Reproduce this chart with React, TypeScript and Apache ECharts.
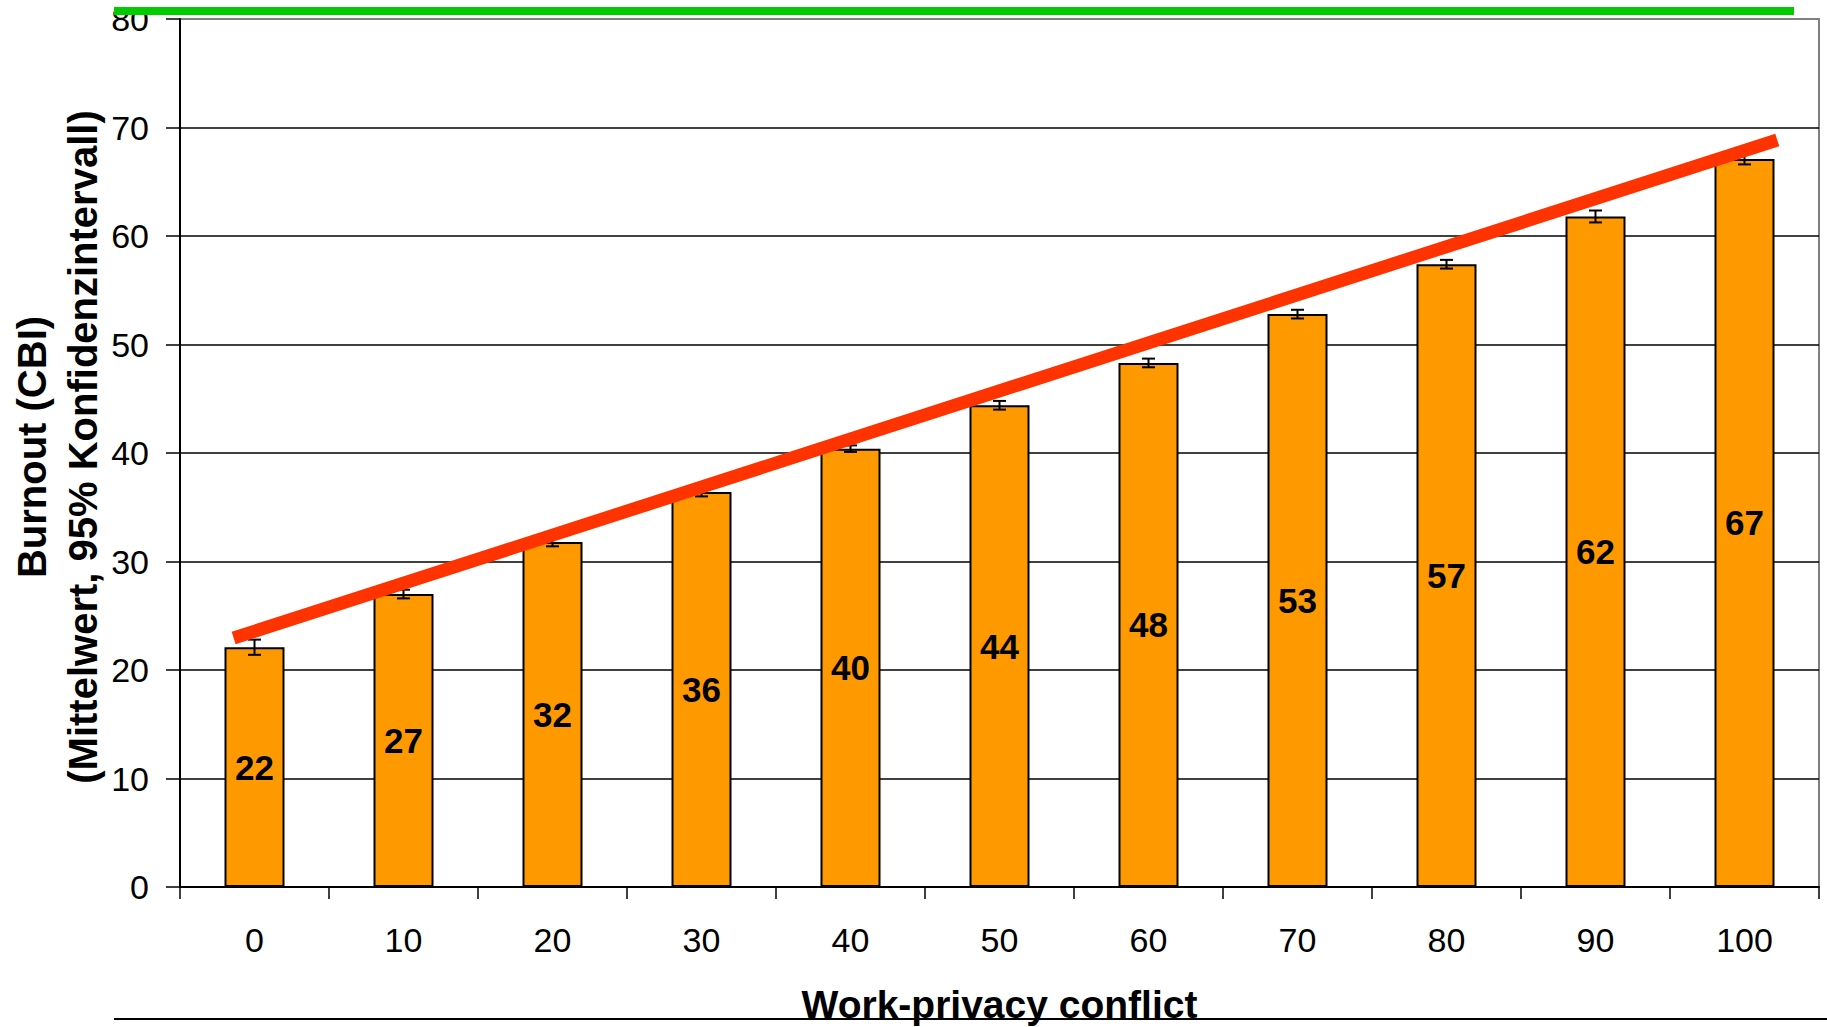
import React, { useEffect, useRef } from "react";
import * as echarts from "echarts";

const categories = ["0", "10", "20", "30", "40", "50", "60", "70", "80", "90", "100"];
const burnoutMeans = [22.1, 27.0, 31.8, 36.4, 40.4, 44.4, 48.3, 52.8, 57.4, 61.8, 67.1];
const ciHalfWidths = [0.7, 0.4, 0.4, 0.4, 0.3, 0.4, 0.4, 0.4, 0.4, 0.55, 0.5];
const trendLine: [number, number][] = [
  [-0.14, 22.95],
  [10.22, 68.85],
];
const yTicks = { min: 0, max: 80, interval: 10 };

const FONT = "'Liberation Sans', Arial, sans-serif";

export default function App() {
  const ref = useRef<HTMLDivElement>(null);

  useEffect(() => {
    document.body.style.margin = "0";
    const chart = echarts.init(ref.current!, null, { renderer: "svg" });

    const errorData = burnoutMeans.map((v, i) => [i, v - ciHalfWidths[i], v + ciHalfWidths[i]]);

    const option: any = {
      animation: false,
      backgroundColor: "#ffffff",
      textStyle: { fontFamily: FONT },
      grid: {
        left: 180,
        right: 8,
        top: 19,
        bottom: 140,
        containLabel: false,
        outerBoundsMode: "none",
        show: true,
        borderColor: "#808080",
        borderWidth: 2,
        backgroundColor: "transparent",
      },
      xAxis: [
        {
          type: "category",
          data: categories,
          name: "Work-privacy conflict",
          nameLocation: "middle",
          nameGap: 98,
          nameMoveOverlap: false,
          nameTextStyle: { fontSize: 39, fontWeight: "bold", color: "#000", fontFamily: FONT },
          axisLine: { onZero: false, lineStyle: { color: "#000", width: 2 } },
          axisTick: { show: true, length: 12, lineStyle: { color: "#000", width: 1.5 } },
          axisLabel: { fontSize: 34, color: "#000", margin: 36, fontFamily: FONT },
          splitLine: { show: false },
        },
        {
          type: "value",
          min: -0.5,
          max: 10.5,
          show: false,
        },
      ],
      yAxis: {
        type: "value",
        min: yTicks.min,
        max: yTicks.max,
        interval: yTicks.interval,
        name: "Burnout (CBI)\n(Mittelwert, 95% Konfidenzintervall)",
        nameLocation: "middle",
        nameGap: 72,
        nameMoveOverlap: false,
        nameTextStyle: {
          fontSize: 40,
          fontWeight: "bold",
          color: "#000",
          lineHeight: 51,
          align: "center",
          padding: [0, 0, 0, 12],
          fontFamily: FONT,
        },
        axisLine: { show: true, onZero: false, lineStyle: { color: "#000", width: 2 } },
        axisTick: { show: true, length: 14, lineStyle: { color: "#000", width: 1.5 } },
        axisLabel: { fontSize: 34, color: "#000", margin: 31, fontFamily: FONT },
        splitLine: {
          show: true,
          lineStyle: {
            color: ["#000", "#000", "#000", "#000", "#000", "#000", "#000", "#000", "#808080"],
            width: 1.5,
          },
        },
      },
      series: [
        {
          type: "bar",
          data: burnoutMeans,
          barWidth: 60,
          itemStyle: { color: "#FF9900", borderColor: "#000", borderWidth: 2 },
          label: {
            show: true,
            position: "inside",
            fontSize: 35,
            fontWeight: "bold",
            color: "#000",
            fontFamily: FONT,
            formatter: (p: any) => String(Math.round(p.value)),
          },
          z: 2,
        },
        {
          type: "custom",
          data: errorData,
          z: 3,
          renderItem: (params: any, api: any) => {
            const i = api.value(0);
            const lo = api.coord([i, api.value(1)]);
            const hi = api.coord([i, api.value(2)]);
            const cap = 6.5;
            const style = { stroke: "#000", lineWidth: 2 };
            return {
              type: "group",
              children: [
                { type: "line", shape: { x1: lo[0], y1: lo[1], x2: hi[0], y2: hi[1] }, style },
                { type: "line", shape: { x1: lo[0] - cap, y1: lo[1], x2: lo[0] + cap, y2: lo[1] }, style },
                { type: "line", shape: { x1: hi[0] - cap, y1: hi[1], x2: hi[0] + cap, y2: hi[1] }, style },
              ],
            };
          },
        },
        {
          type: "line",
          xAxisIndex: 1,
          data: trendLine,
          symbol: "none",
          lineStyle: { color: "#FF3300", width: 13, cap: "butt" },
          z: 5,
          silent: true,
        },
      ],
      graphic: [
        {
          type: "line",
          shape: { x1: 114, y1: 11, x2: 1794, y2: 11 },
          style: { stroke: "#00CC00", lineWidth: 8 },
          z: 10,
        },
        {
          type: "line",
          shape: { x1: 114, y1: 1019, x2: 1827, y2: 1019 },
          style: { stroke: "#000", lineWidth: 2 },
          z: 10,
        },
      ],
    };

    chart.setOption(option);
    return () => chart.dispose();
  }, []);

  return <div ref={ref} style={{ width: 1827, height: 1027 }} />;
}
